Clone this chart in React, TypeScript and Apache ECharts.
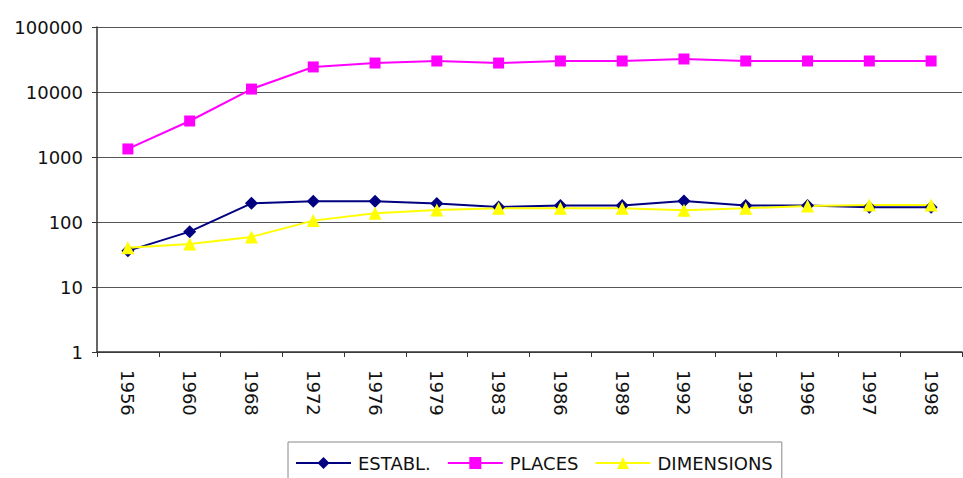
import React, { useEffect, useRef } from "react";
import * as echarts from "echarts";

const years = ["1956", "1960", "1968", "1972", "1976", "1979", "1983", "1986", "1989", "1992", "1995", "1996", "1997", "1998"];
const establ = [36, 71, 194, 208, 208, 192, 170, 180, 180, 210, 180, 180, 168, 168];
const places = [1330, 3580, 11100, 24300, 27900, 30000, 27900, 30000, 30000, 32200, 30000, 30000, 30000, 30000];
const dimensions = [40, 46, 59, 105, 136, 153, 163, 163, 163, 152, 163, 176, 183, 183];

const FONT = "DejaVu Sans";

export default function App() {
  const ref = useRef<HTMLDivElement>(null);
  useEffect(() => {
    if (!ref.current) return;
    const chart = echarts.init(ref.current, undefined, { renderer: "svg" });
    chart.setOption({
      animation: false,
      backgroundColor: "#ffffff",
      textStyle: { fontFamily: FONT },
      grid: { left: 97, right: 1, top: 27, bottom: 126, containLabel: false },
      legend: {
        left: 288,
        top: 442,
        padding: [12, 9, 13, 7],
        itemGap: 16,
        itemWidth: 55,
        itemHeight: 15,
        borderColor: "#888888",
        borderWidth: 1,
        textStyle: { fontFamily: FONT, fontSize: 18, color: "#111111", padding: [0, 0, 0, 2] },
        data: ["ESTABL.", "PLACES", "DIMENSIONS"],
      },
      xAxis: {
        type: "category",
        data: years,
        boundaryGap: true,
        axisLine: { show: true, lineStyle: { color: "#333333", width: 1.5 } },
        axisTick: { show: true, length: 5, alignWithLabel: false, lineStyle: { color: "#333333" } },
        axisLabel: { rotate: -90, margin: 18, fontFamily: FONT, fontSize: 18, color: "#111111", interval: 0 },
        splitLine: { show: false },
      },
      yAxis: {
        type: "log",
        logBase: 10,
        min: 1,
        max: 100000,
        axisLine: { show: true, lineStyle: { color: "#333333", width: 1.5 } },
        axisTick: { show: true, length: 5, lineStyle: { color: "#333333" } },
        axisLabel: {
          margin: 14,
          fontFamily: FONT,
          fontSize: 18,
          color: "#111111",
          formatter: (v: number) => String(Math.round(v)),
        },
        splitLine: { show: true, lineStyle: { color: "#555555", width: 1 } },
        minorTick: { show: false },
      },
      series: [
        {
          name: "ESTABL.",
          type: "line",
          data: establ,
          symbol: "diamond",
          symbolSize: 13,
          color: "#000080",
          lineStyle: { color: "#000080", width: 2 },
          itemStyle: { color: "#000080" },
        },
        {
          name: "PLACES",
          type: "line",
          data: places,
          symbol: "rect",
          symbolSize: 11,
          color: "#ff00ff",
          lineStyle: { color: "#ff00ff", width: 2 },
          itemStyle: { color: "#ff00ff" },
        },
        {
          name: "DIMENSIONS",
          type: "line",
          data: dimensions,
          symbol: "triangle",
          symbolSize: 13,
          color: "#ffff00",
          lineStyle: { color: "#ffff00", width: 2 },
          itemStyle: { color: "#ffff00" },
        },
      ],
    });
    return () => chart.dispose();
  }, []);
  return <div ref={ref} style={{ width: 963, height: 478, position: "absolute", left: 0, top: 0 }} />;
}
